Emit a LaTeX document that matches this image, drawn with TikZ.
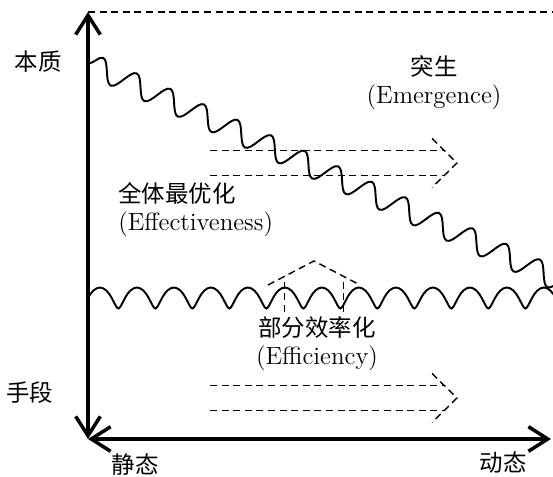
\documentclass[tikz,border=0pt]{standalone}
\usepackage{fontspec}
\usepackage{tikz,amsmath}
\usetikzlibrary{arrows.meta,decorations.pathmorphing}
\newfontfamily\cjk{Noto Sans CJK SC}[Scale=0.94]

\tikzset{
    axis/.style={line width=2pt, {Straight Barb[length=11pt,width=14pt]}-{Straight Barb[length=11pt,width=14pt]}},
    guide/.style={line width=0.8pt, dash pattern=on 4pt off 2.6pt},
    wave/.style={line width=1.1pt, decorate, decoration={snake, segment length=0.74cm, amplitude=0.22cm}},
    curl/.style={line width=1.1pt, decorate, decoration={coil, segment length=0.74cm, amplitude=0.21cm, aspect=0.25}},
    textlabel/.style={font=\fontsize{14.2pt}{16pt}\selectfont, inner sep=0pt, align=center}
}

\begin{document}
\begin{tikzpicture}
    \useasboundingbox (-1.76, -0.76) rectangle (9.30, 8.78);

    % axes and end points
    \coordinate (O) at (0, 0);
    \coordinate (Top) at (0, 8.54);
    \coordinate (Right) at (9.26, 0);
    \coordinate (TopEnd) at (9.30, 8.54);
    \coordinate (S1) at (0, 7.52);
    \coordinate (S2) at (9.90, 2.95);
    \coordinate (P1) at (0, 2.82);
    \coordinate (P2) at (9.90, 2.82);

    \node (Ess) [textlabel] at (-1.00, 7.54) {\cjk 本质};
    \node (Means) [textlabel] at (-1.16, 0.92) {\cjk 手段};
    \node (Static) [textlabel] at (0.94, -0.52) {\cjk 静态};
    \node (Dynamic) [textlabel] at (8.30, -0.48) {\cjk 动态};
    \node (Emg) [textlabel] at (6.92, 7.12) {{\cjk 突生}\\(Emergence)};
    \node (Eff) [textlabel, align=left, anchor=west] at (0.60, 4.59) {{\cjk 全体最优化}\\(Effectiveness)};
    \node (Effc) [textlabel] at (4.58, 1.91) {{\cjk 部分效率化}\\(Efficiency)};

    \draw [axis] (O) -- (Top);
    \draw [axis] (O) -- (Right);
    \draw [guide] (Top) -- (TopEnd);

    % the two wavy lines, cut at the right edge
    \begin{scope}
        \clip (0, -0.76) rectangle (9.30, 8.78);
        \draw [wave] (S1) -- (S2);
        \draw [curl] (P1) -- (P2);
    \end{scope}

    % dashed block arrows
    \draw [guide] (2.44, 5.77) -- (7.125, 5.77);
    \draw [guide] (2.44, 5.27) -- (7.125, 5.27);
    \draw [guide] (6.88, 6.01) -- (7.38, 5.52) -- (6.88, 5.03);

    \draw [guide] (2.44, 1.07) -- (7.125, 1.07);
    \draw [guide] (2.44, 0.57) -- (7.125, 0.57);
    \draw [guide] (6.88, 1.31) -- (7.38, 0.82) -- (6.88, 0.33);

    \draw [guide] (3.93, 2.54) -- (3.93, 3.25);
    \draw [guide] (5.11, 2.54) -- (5.11, 3.25);
    \draw [guide] (3.60, 3.08) -- (4.52, 3.56) -- (5.44, 3.08);
\end{tikzpicture}
\end{document}
